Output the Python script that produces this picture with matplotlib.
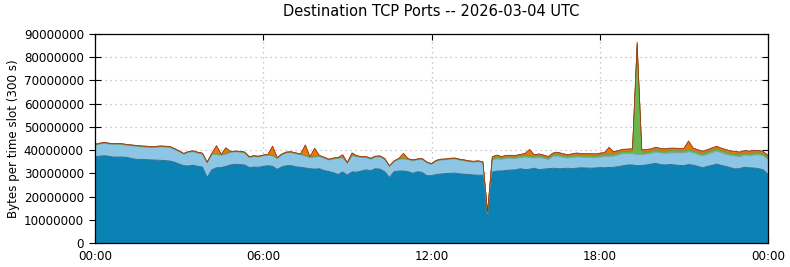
import matplotlib
matplotlib.use("Agg")
import matplotlib.pyplot as plt
import matplotlib.lines as mlines
import numpy as np
from matplotlib.ticker import FixedLocator, FuncFormatter

# 10-minute slots from 00:00 to 24:00 (hours)
slot_hours = [i / 6 for i in range(145)]

# values in millions of bytes per 300 s slot
port_a = [37.1, 37.4, 37.6, 37.3, 37.0, 37.0, 37.0, 36.8, 36.3, 36.0,
          36.0, 35.9, 35.8, 35.7, 35.6, 35.5, 35.3, 34.8, 34.0, 33.3,
          33.2, 33.5, 33.0, 32.7, 28.2, 31.5, 32.4, 32.5, 33.0, 33.6,
          33.9, 33.8, 33.6, 32.5, 32.7, 32.6, 33.0, 33.3, 33.0, 31.7,
          32.8, 33.3, 33.3, 32.8, 32.6, 32.3, 32.0, 31.8, 32.0, 31.2,
          30.8, 30.3, 29.5, 30.6, 29.2, 30.6, 30.5, 31.0, 31.5, 31.1,
          32.0, 31.8, 30.7, 28.2, 30.7, 31.0, 31.0, 30.7, 30.0, 30.7,
          30.4, 29.0, 29.0, 29.5, 29.7, 29.9, 30.0, 30.1, 29.8, 29.6,
          29.5, 29.3, 29.2, 29.2, 10.0, 30.5, 31.0, 31.0, 31.3, 31.4,
          31.5, 32.0, 31.6, 31.8, 32.2, 31.6, 31.8, 32.0, 32.2, 32.0,
          32.0, 32.2, 32.0, 32.2, 32.4, 32.3, 32.2, 32.3, 32.5, 32.4,
          32.5, 32.6, 32.9, 33.3, 33.6, 33.6, 33.3, 33.4, 33.6, 34.0,
          34.3, 33.8, 33.6, 33.8, 33.6, 33.4, 33.3, 33.8, 33.5, 33.0,
          32.4, 33.0, 33.4, 34.0, 33.4, 33.0, 32.4, 31.9, 32.1, 32.6,
          32.4, 32.3, 32.0, 31.5, 29.5]

port_b = [5.0, 5.2, 5.3, 5.3, 5.4, 5.5, 5.3, 5.2, 5.5, 5.6,
          5.4, 5.4, 5.3, 5.5, 5.8, 5.8, 5.9, 5.5, 5.3, 4.9,
          5.8, 5.8, 5.7, 5.6, 6.3, 6.7, 5.8, 5.3, 5.3, 5.4,
          5.3, 5.3, 5.2, 4.3, 4.5, 4.4, 4.5, 4.5, 4.5, 4.7,
          5.2, 5.5, 5.6, 5.6, 5.4, 5.2, 4.8, 5.2, 5.3, 5.4,
          4.9, 5.9, 6.9, 6.2, 5.1, 7.0, 6.7, 5.8, 5.3, 5.0,
          5.0, 5.3, 5.3, 4.7, 4.3, 5.0, 5.2, 5.2, 5.4, 5.1,
          5.6, 5.5, 4.8, 5.7, 6.0, 5.9, 6.1, 6.1, 5.9, 5.8,
          5.5, 5.5, 5.8, 5.4, 3.0, 5.3, 5.2, 5.0, 5.1, 5.1,
          4.8, 4.8, 5.4, 5.0, 4.4, 5.3, 4.7, 3.9, 5.1, 5.5,
          5.0, 4.4, 4.8, 4.9, 4.6, 4.6, 4.6, 4.4, 4.5, 4.8,
          4.8, 4.8, 5.1, 5.2, 5.0, 4.9, 4.8, 4.7, 4.7, 4.6,
          4.9, 5.0, 5.0, 5.0, 5.3, 5.4, 5.5, 5.5, 5.4, 5.2,
          5.2, 5.2, 5.5, 5.6, 5.5, 5.3, 5.3, 5.6, 5.1, 5.3,
          5.2, 5.6, 6.0, 6.0, 6.5]

port_c = [0.2, 0.2, 0.2, 0.2, 0.2, 0.2, 0.2, 0.2, 0.2, 0.2,
          0.2, 0.2, 0.2, 0.2, 0.2, 0.2, 0.2, 0.2, 0.2, 0.2,
          0.2, 0.2, 0.2, 0.2, 0.2, 0.2, 0.2, 0.2, 0.2, 0.2,
          0.2, 0.2, 0.2, 0.2, 0.2, 0.2, 0.2, 0.2, 0.2, 0.2,
          0.2, 0.2, 0.2, 0.2, 0.2, 0.2, 0.2, 0.2, 0.2, 0.2,
          0.2, 0.2, 0.2, 0.2, 0.2, 0.2, 0.2, 0.2, 0.2, 0.2,
          0.2, 0.2, 0.2, 0.2, 0.2, 0.2, 0.2, 0.2, 0.2, 0.2,
          0.2, 0.2, 0.2, 0.2, 0.2, 0.2, 0.2, 0.2, 0.2, 0.2,
          0.2, 0.2, 0.2, 0.2, 0.2, 0.8, 1.0, 0.6, 0.7, 0.6,
          0.7, 0.7, 0.8, 0.7, 0.6, 0.7, 0.6, 0.6, 0.7, 0.8,
          0.7, 0.7, 0.8, 0.8, 0.8, 0.8, 0.8, 0.8, 0.8, 0.9,
          0.9, 0.9, 0.9, 0.9, 0.9, 1.0, 47.5, 1.0, 0.9, 0.9,
          1.0, 0.9, 0.9, 1.0, 0.9, 0.9, 0.9, 1.0, 0.9, 0.9,
          0.9, 0.9, 1.0, 1.0, 0.9, 0.9, 0.9, 0.9, 0.9, 0.9,
          0.9, 0.9, 0.9, 0.9, 0.8]

port_d = [0.2, 0.2, 0.2, 0.2, 0.2, 0.2, 0.2, 0.2, 0.2, 0.2,
          0.2, 0.2, 0.2, 0.2, 0.2, 0.2, 0.2, 0.2, 0.2, 0.2,
          0.2, 0.2, 0.2, 0.2, 0.2, 0.2, 3.5, 0.2, 2.5, 0.2,
          0.2, 0.2, 0.2, 0.2, 0.2, 0.2, 0.2, 0.2, 4.0, 0.2,
          0.2, 0.2, 0.2, 0.2, 0.2, 4.5, 0.2, 3.6, 0.2, 0.2,
          0.2, 0.2, 0.2, 1.0, 0.2, 1.0, 0.2, 0.2, 0.2, 0.2,
          0.2, 0.2, 0.2, 0.2, 0.2, 0.2, 2.2, 0.2, 0.2, 0.2,
          0.2, 0.2, 0.2, 0.2, 0.2, 0.2, 0.2, 0.2, 0.2, 0.2,
          0.2, 0.2, 0.2, 0.2, 0.2, 0.4, 0.5, 0.5, 0.5, 0.5,
          0.6, 0.5, 0.6, 2.6, 0.6, 0.6, 0.6, 0.6, 0.6, 0.6,
          0.7, 0.6, 0.6, 0.7, 0.6, 0.6, 0.7, 0.7, 0.7, 0.7,
          2.8, 0.8, 0.8, 0.8, 0.8, 0.9, 0.6, 0.9, 0.9, 0.9,
          0.9, 0.9, 0.9, 0.9, 0.9, 0.9, 0.9, 3.5, 0.9, 0.9,
          0.9, 0.9, 0.9, 0.9, 0.9, 0.9, 0.9, 0.9, 0.9, 0.9,
          0.9, 0.9, 0.8, 0.8, 0.8]

port_e = [0.0, 0.0, 0.0, 0.0, 0.0, 0.0, 0.0, 0.0, 0.0, 0.0,
          0.0, 0.0, 0.0, 0.0, 0.0, 0.0, 0.0, 0.0, 0.0, 0.0,
          0.0, 0.0, 0.0, 0.0, 0.0, 0.0, 0.0, 0.0, 0.0, 0.0,
          0.0, 0.0, 0.0, 0.0, 0.0, 0.0, 0.0, 0.0, 0.0, 0.0,
          0.0, 0.0, 0.0, 0.0, 0.0, 0.0, 0.0, 0.0, 0.0, 0.0,
          0.0, 0.0, 0.0, 0.0, 0.0, 0.0, 0.0, 0.0, 0.0, 0.0,
          0.0, 0.0, 0.0, 0.0, 0.0, 0.0, 0.0, 0.0, 0.0, 0.0,
          0.0, 0.0, 0.0, 0.0, 0.0, 0.0, 0.0, 0.0, 0.0, 0.0,
          0.0, 0.0, 0.0, 0.0, 0.0, 0.2, 0.2, 0.2, 0.2, 0.2,
          0.2, 0.2, 0.2, 0.2, 0.2, 0.2, 0.2, 0.2, 0.2, 0.2,
          0.2, 0.2, 0.2, 0.2, 0.2, 0.2, 0.2, 0.2, 0.2, 0.2,
          0.2, 0.2, 0.2, 0.2, 0.2, 0.2, 0.3, 0.2, 0.2, 0.2,
          0.2, 0.2, 0.2, 0.2, 0.2, 0.2, 0.2, 0.2, 0.2, 0.2,
          0.2, 0.2, 0.2, 0.2, 0.2, 0.2, 0.2, 0.2, 0.2, 0.2,
          0.2, 0.2, 0.2, 0.2, 0.2]

x_tick_hours = [0, 6, 12, 18, 24]
x_tick_labels = ["00:00", "06:00", "12:00", "18:00", "00:00"]
y_ticks = [0, 10000000, 20000000, 30000000, 40000000, 50000000,
           60000000, 70000000, 80000000, 90000000]

fill_colors = ["#0a82b4", "#8cc6e4", "#6cb44c", "#e8780c", "#c0302a"]
edge_colors = ["#2f6f96", "#7a9fa8", "#5a8f3a", "#c06010", "#8a3018"]
edge_widths = [0.7, 0.6, 0.5, 0.5, 0.45]

fig = plt.figure(figsize=(7.9, 2.67), dpi=100)
ax = fig.add_axes([95 / 790, 1 - 243 / 267, (768 - 95) / 790, (243 - 34) / 267])

x = np.array(slot_hours)
layers = [np.array(s) * 1e6 for s in (port_a, port_b, port_c, port_d, port_e)]
ax.stackplot(x, *layers, colors=fill_colors, linewidth=0, zorder=2)
cum = np.cumsum(np.vstack(layers), axis=0)
for k in range(len(layers)):
    ax.plot(x, cum[k], color=edge_colors[k], linewidth=edge_widths[k], zorder=3)

ax.set_xlim(0, 24)
ax.set_ylim(0, 90000000)
ax.xaxis.set_major_locator(FixedLocator(x_tick_hours))
ax.set_xticklabels(x_tick_labels)
ax.yaxis.set_major_locator(FixedLocator(y_ticks))
ax.yaxis.set_major_formatter(FuncFormatter(lambda v, p: "%d" % v))

ax.set_axisbelow(True)
ax.grid(True, color="#b8b8b8", linestyle=(0, (1, 3)), linewidth=0.9)
ax.tick_params(axis="both", labelsize=8.6, color="black", width=0.8,
               top=True, right=True, direction="in", length=4.5)
ax.tick_params(axis="x", pad=5)
ax.tick_params(axis="y", direction="inout", length=8, pad=4)
for t in ax.yaxis.get_major_ticks():
    t.tick2line.set_markersize(4.5)
    t.tick2line.set_marker(mlines.TICKLEFT)
for sp in ax.spines.values():
    sp.set_linewidth(0.9)
    sp.set_zorder(5)

ax.set_ylabel("Bytes per time slot (300 s)", fontsize=8.6, labelpad=3)
ax.set_title("Destination TCP Ports -- 2026-03-04 UTC", fontsize=10.5, pad=13)

fig.savefig("out.png", dpi=100)
